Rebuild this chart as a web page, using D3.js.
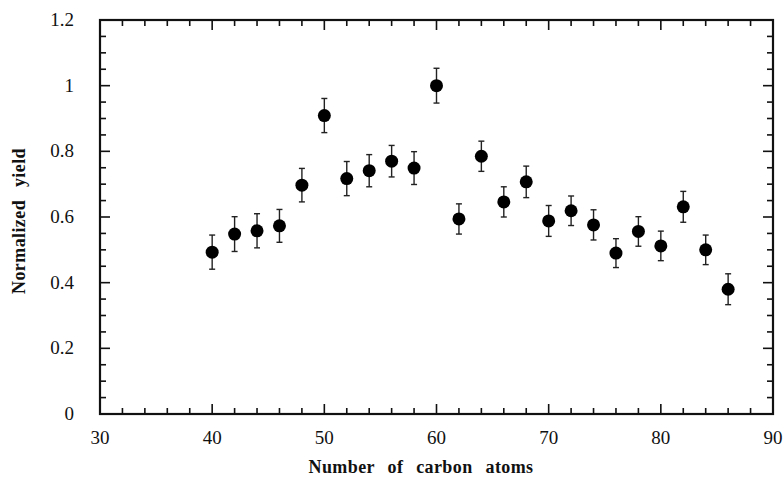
<!DOCTYPE html>
<html lang="en">
<head>
<meta charset="UTF-8"/>
<title>Normalized yield vs carbon atoms</title>
<script src="https://d3js.org/d3.v7.min.js"></script>
<style>
  body { margin: 0; background: #fff; }
  text { font-family: "Liberation Serif", "DejaVu Serif", serif; fill: #111; }
  .tick-label { font-size: 19px; }
  .title { font-size: 18px; font-weight: bold; word-spacing: 8px; letter-spacing: 0.4px; }
</style>
</head>
<body>
<div id="chart"></div>
<script>
    // Data
    var carbonAtoms = [40, 42, 44, 46, 48, 50, 52, 54, 56, 58, 60, 62,
                       64, 66, 68, 70, 72, 74, 76, 78, 80, 82, 84, 86];
    var yieldValues = [0.493, 0.548, 0.558, 0.573, 0.697, 0.909, 0.717, 0.741, 0.770, 0.749, 1.000, 0.594,
                       0.785, 0.646, 0.707, 0.588, 0.619, 0.576, 0.490, 0.556, 0.512, 0.631, 0.500, 0.380];
    var yieldErrors = [0.052, 0.053, 0.052, 0.050, 0.051, 0.052, 0.052, 0.049, 0.048, 0.050, 0.053, 0.046,
                       0.046, 0.046, 0.048, 0.047, 0.045, 0.046, 0.044, 0.045, 0.045, 0.047, 0.045, 0.047];

    var xTicks = [30, 40, 50, 60, 70, 80, 90];
    var yTicks = [0, 0.2, 0.4, 0.6, 0.8, 1, 1.2];

    var w = 783, h = 477;
    // plot frame (window.top is reserved, so prefixed names)
    var pLeft = 100, pRight = 773, pTop = 20, pBottom = 414;

    var xScale = d3.scaleLinear().domain([30, 90]).range([pLeft, pRight]);
    var yScale = d3.scaleLinear().domain([0, 1.2]).range([pBottom, pTop]);

    var svg = d3.select("#chart").append("svg")
                .attr("width", w)
                .attr("height", h);

    // minor ticks, inward on all four sides
    var xMinor = d3.range(32, 90, 2);
    var yMinor = d3.range(1, 24).map(function(k) { return k * 0.05; });

    function isMajorX(v) { return v % 10 === 0; }
    function isMajorY(v) { return Math.abs(Math.round(v / 0.2) * 0.2 - v) < 1e-6; }

    var tickG = svg.append("g").attr("stroke", "#111").attr("stroke-width", 1.6);

    xMinor.forEach(function(v) {
        var len = isMajorX(v) ? 10 : 6;
        tickG.append("line")
            .attr("x1", xScale(v)).attr("x2", xScale(v))
            .attr("y1", pBottom).attr("y2", pBottom - len);
        tickG.append("line")
            .attr("x1", xScale(v)).attr("x2", xScale(v))
            .attr("y1", pTop).attr("y2", pTop + len);
    });

    yMinor.forEach(function(v) {
        var len = isMajorY(v) ? 10 : 6;
        tickG.append("line")
            .attr("x1", pLeft).attr("x2", pLeft + len)
            .attr("y1", yScale(v)).attr("y2", yScale(v));
        tickG.append("line")
            .attr("x1", pRight).attr("x2", pRight - len)
            .attr("y1", yScale(v)).attr("y2", yScale(v));
    });

    // frame
    svg.append("rect")
        .attr("x", pLeft).attr("y", pTop)
        .attr("width", pRight - pLeft).attr("height", pBottom - pTop)
        .attr("fill", "none")
        .attr("stroke", "#111")
        .attr("stroke-width", 2.2);

    // tick labels
    svg.selectAll(".xlab")
        .data(xTicks)
        .enter()
        .append("text")
        .attr("class", "tick-label")
        .attr("x", function(d) { return xScale(d); })
        .attr("y", 444)
        .attr("text-anchor", "middle")
        .text(function(d) { return d; });

    svg.selectAll(".ylab")
        .data(yTicks)
        .enter()
        .append("text")
        .attr("class", "tick-label")
        .attr("x", 74)
        .attr("y", function(d) { return yScale(d) + 6; })
        .attr("text-anchor", "end")
        .text(function(d) { return d; });

    // axis titles
    svg.append("text")
        .attr("class", "title")
        .attr("x", 421)
        .attr("y", 473)
        .attr("text-anchor", "middle")
        .text("Number of carbon atoms");

    svg.append("text")
        .attr("class", "title")
        .attr("transform", "translate(25,221) rotate(-90)")
        .attr("text-anchor", "middle")
        .text("Normalized yield");

    // error bars
    var points = carbonAtoms.map(function(c, i) {
        return { x: c, y: yieldValues[i], e: yieldErrors[i] };
    });

    var errG = svg.append("g").attr("stroke", "#222").attr("stroke-width", 1.4);

    errG.selectAll(".bar")
        .data(points)
        .enter()
        .append("line")
        .attr("x1", function(d) { return xScale(d.x); })
        .attr("x2", function(d) { return xScale(d.x); })
        .attr("y1", function(d) { return yScale(d.y - d.e); })
        .attr("y2", function(d) { return yScale(d.y + d.e); });

    errG.selectAll(".capTop")
        .data(points)
        .enter()
        .append("line")
        .attr("x1", function(d) { return xScale(d.x) - 3; })
        .attr("x2", function(d) { return xScale(d.x) + 3; })
        .attr("y1", function(d) { return yScale(d.y + d.e); })
        .attr("y2", function(d) { return yScale(d.y + d.e); });

    errG.selectAll(".capBot")
        .data(points)
        .enter()
        .append("line")
        .attr("x1", function(d) { return xScale(d.x) - 3; })
        .attr("x2", function(d) { return xScale(d.x) + 3; })
        .attr("y1", function(d) { return yScale(d.y - d.e); })
        .attr("y2", function(d) { return yScale(d.y - d.e); });

    // markers
    svg.selectAll("circle")
        .data(points)
        .enter()
        .append("circle")
        .attr("cx", function(d) { return xScale(d.x); })
        .attr("cy", function(d) { return yScale(d.y); })
        .attr("r", 6.5)
        .attr("fill", "#000");
</script>
</body>
</html>
